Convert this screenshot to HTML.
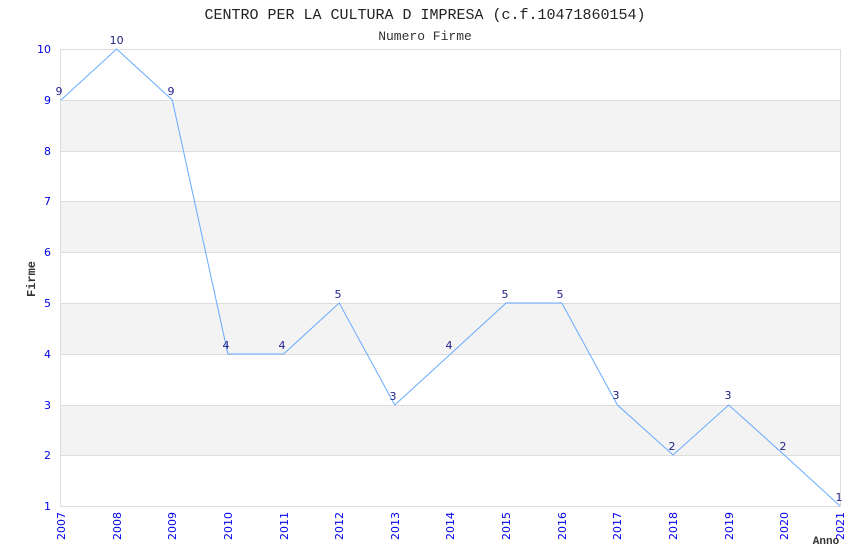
<!DOCTYPE html>
<html><head><meta charset="utf-8"><style>body{margin:0;background:#fff}</style></head><body>
<svg width="850" height="550" xmlns="http://www.w3.org/2000/svg" font-family="DejaVu Sans, Liberation Sans, sans-serif">
<rect width="850" height="550" fill="#fff"/>
<g fill="#f3f3f3">
<rect x="61" y="100" width="779" height="51"/>
<rect x="61" y="201" width="779" height="51"/>
<rect x="61" y="303" width="779" height="51"/>
<rect x="61" y="405" width="779" height="50"/>
</g>
<g stroke="#dddddd" stroke-width="1">
<line x1="61" y1="49.5" x2="840" y2="49.5"/><line x1="61" y1="100.5" x2="840" y2="100.5"/>
<line x1="61" y1="151.5" x2="840" y2="151.5"/><line x1="61" y1="201.5" x2="840" y2="201.5"/>
<line x1="61" y1="252.5" x2="840" y2="252.5"/><line x1="61" y1="303.5" x2="840" y2="303.5"/>
<line x1="61" y1="354.5" x2="840" y2="354.5"/><line x1="61" y1="405.5" x2="840" y2="405.5"/>
<line x1="61" y1="455.5" x2="840" y2="455.5"/><line x1="61" y1="506.5" x2="840" y2="506.5"/>
<line x1="60.5" y1="49" x2="60.5" y2="507"/><line x1="840.5" y1="49" x2="840.5" y2="507"/>
</g>
<text x="425" y="19" text-anchor="middle" font-family="Liberation Mono, monospace" font-size="15" fill="#222">CENTRO PER LA CULTURA D IMPRESA (c.f.10471860154)</text>
<text x="425" y="40" text-anchor="middle" font-family="Liberation Mono, monospace" font-size="13" fill="#333">Numero Firme</text>
<text transform="translate(35,279) rotate(-90)" text-anchor="middle" font-family="Liberation Mono, monospace" font-size="12" font-weight="bold" fill="#333">Firme</text>
<text x="826" y="544" text-anchor="middle" font-family="Liberation Mono, monospace" font-size="11" font-weight="bold" fill="#333">Anno</text>
<g font-size="11" fill="#0000ee" text-anchor="end">
<text x="51" y="53">10</text><text x="51" y="104">9</text><text x="51" y="155">8</text>
<text x="51" y="205">7</text><text x="51" y="256">6</text><text x="51" y="307">5</text>
<text x="51" y="358">4</text><text x="51" y="409">3</text><text x="51" y="459">2</text><text x="51" y="510">1</text>
</g>
<g font-size="11" fill="#0000ee" text-anchor="end">
<text transform="translate(65,512) rotate(-90)">2007</text>
<text transform="translate(121,512) rotate(-90)">2008</text>
<text transform="translate(176,512) rotate(-90)">2009</text>
<text transform="translate(232,512) rotate(-90)">2010</text>
<text transform="translate(288,512) rotate(-90)">2011</text>
<text transform="translate(343,512) rotate(-90)">2012</text>
<text transform="translate(399,512) rotate(-90)">2013</text>
<text transform="translate(454,512) rotate(-90)">2014</text>
<text transform="translate(510,512) rotate(-90)">2015</text>
<text transform="translate(566,512) rotate(-90)">2016</text>
<text transform="translate(621,512) rotate(-90)">2017</text>
<text transform="translate(677,512) rotate(-90)">2018</text>
<text transform="translate(733,512) rotate(-90)">2019</text>
<text transform="translate(788,512) rotate(-90)">2020</text>
<text transform="translate(844,512) rotate(-90)">2021</text>
</g>
<polyline fill="none" stroke="#66aaff" stroke-width="1" points="61,100 116.6,49 172.3,100 227.9,354 283.6,354 339.2,303 394.8,405 450.5,354 506.1,303 561.8,303 617.4,405 673,455 728.7,405 784.3,455 840,506"/>
<g font-size="11" fill="#222288" text-anchor="middle">
<text x="59" y="95">9</text><text x="116.6" y="44">10</text><text x="171" y="95">9</text>
<text x="226" y="349">4</text><text x="282" y="349">4</text><text x="338" y="298">5</text>
<text x="393" y="400">3</text><text x="449" y="349">4</text><text x="505" y="298">5</text>
<text x="560" y="298">5</text><text x="616" y="399">3</text><text x="672" y="450">2</text>
<text x="728" y="399">3</text><text x="783" y="450">2</text><text x="839" y="501">1</text>
</g>
</svg>
</body></html>
